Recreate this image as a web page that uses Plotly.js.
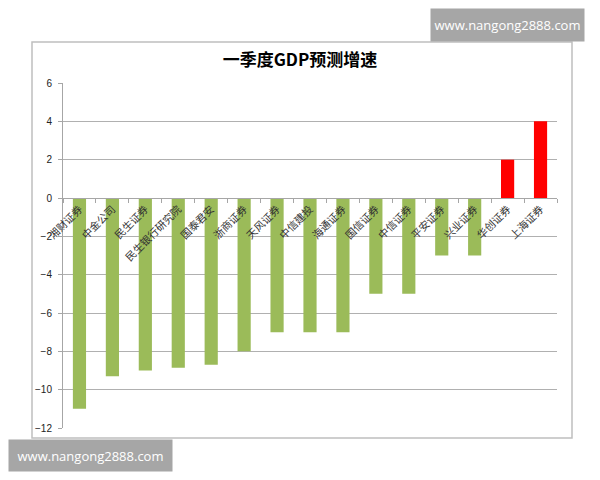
<!DOCTYPE html>
<html>
<head>
<meta charset="utf-8">
<script src="https://cdn.plot.ly/plotly-3.0.1.min.js"></script>
<style>html,body{margin:0;padding:0;background:#fff;}#chart{width:600px;height:480px;}</style>
</head>
<body>
<div id="chart"></div>
<script>
const categories = ['湘财证券','中金公司','民生证券','民生银行研究院','国泰君安','浙商证券','天风证券','中信建投','海通证券','国信证券','中信证券','平安证券','兴业证券','华创证券','上海证券'];
const values = [-11, -9.3, -9.0, -8.85, -8.7, -8.0, -7, -7, -7, -5, -5, -3, -3, 2, 4];
const yTicks = [-12, -10, -8, -6, -4, -2, 0, 2, 4, 6];
const watermark = 'www.nangong2888.com';
const titleText = '一季度GDP预测增速';

const colors = values.map(v => v < 0 ? '#9BBB59' : '#FF0000');
const cjk = '"Noto Sans CJK SC", "Noto Sans", sans-serif';

const trace = {
  type: 'bar',
  x: categories,
  y: values,
  marker: {color: colors, line: {width: 0}},
  hoverinfo: 'skip'
};

const layout = {
  width: 600, height: 480,
  margin: {l: 63, r: 43, t: 83, b: 52},
  paper_bgcolor: '#ffffff',
  plot_bgcolor: '#ffffff',
  showlegend: false,
  bargap: 0.6,
  title: {
    text: titleText,
    font: {family: cjk, size: 17, color: '#000000', weight: 'bold'},
    x: 0.5, xanchor: 'center', xref: 'container',
    y: 1 - 60/480, yanchor: 'middle'
  },
  xaxis: {
    type: 'category',
    anchor: 'free',
    position: 12/18,
    showline: true, linecolor: '#a6a6a6', linewidth: 1,
    showgrid: false, zeroline: false,
    ticks: 'outside', tickson: 'boundaries', ticklen: 4, tickcolor: '#a6a6a6',
    tickangle: -45,
    tickfont: {family: cjk, size: 10.5, color: '#333333'},
    fixedrange: true
  },
  yaxis: {
    range: [-12, 6],
    tickvals: yTicks,
    showline: true, linecolor: '#a6a6a6', linewidth: 1,
    showgrid: true, gridcolor: '#b0b0b0', gridwidth: 1,
    zeroline: false,
    ticks: 'outside', ticklen: 4, tickcolor: '#a6a6a6',
    ticklabelstandoff: 4,
    tickfont: {family: '"Liberation Sans", Arial, sans-serif', size: 10, color: '#222222'},
    fixedrange: true
  },
  shapes: [{
    type: 'rect', xref: 'paper', yref: 'paper',
    x0: (32-63)/494, x1: (572-63)/494,
    y0: (428-438)/345, y1: (428-42)/345,
    line: {color: '#bfbfbf', width: 1.5},
    fillcolor: 'rgba(0,0,0,0)', layer: 'below'
  }],
  annotations: [
    {
      text: watermark, showarrow: false,
      xref: 'paper', yref: 'paper',
      x: (507.5-63)/494, y: (428-25)/345,
      xanchor: 'center', yanchor: 'middle',
      width: 151, height: 30, bgcolor: '#a6a6a6',
      font: {family: '"Open Sans", "DejaVu Sans", sans-serif', size: 13, color: '#ffffff'}
    },
    {
      text: watermark, showarrow: false,
      xref: 'paper', yref: 'paper',
      x: (90.5-63)/494, y: (428-455)/345,
      xanchor: 'center', yanchor: 'middle',
      width: 161, height: 29, bgcolor: '#a6a6a6',
      font: {family: '"Open Sans", "DejaVu Sans", sans-serif', size: 13, color: '#ffffff'}
    }
  ]
};

Plotly.newPlot('chart', [trace], layout, {displayModeBar: false, staticPlot: true});
</script>
</body>
</html>
